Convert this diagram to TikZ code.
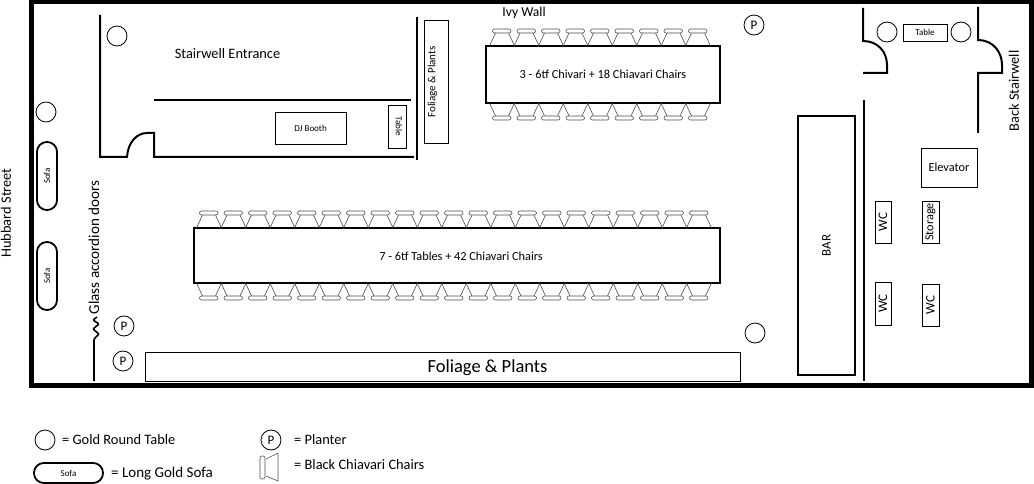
\documentclass[tikz,border=0pt]{standalone}
\usepackage{fontspec}
\setmainfont{Carlito}
\tikzset{
  wall/.style={line width=2pt},
  box/.style={draw,line width=0.9pt,inner sep=0pt},
  bigtable/.style={draw,line width=2.2pt,inner sep=0pt},
  round table/.style={circle,draw,line width=0.8pt,minimum size=20pt,inner sep=0pt},
  sofa/.style={draw,line width=1.8pt,rounded corners=9.8pt,inner sep=0pt},
  chair/.style={line width=0.6pt,draw=black!70},
  lbl/.style={font=\fontsize{14.4}{14.4}\selectfont,inner sep=0pt},
  table lbl/.style={font=\fontsize{12.3}{12.3}\selectfont,inner sep=0pt},
  small lbl/.style={font=\fontsize{9}{9}\selectfont,inner sep=0pt}
}
\begin{document}
\begin{tikzpicture}[x=1pt,y=-1pt]
  \useasboundingbox (0,0) rectangle (1034,484);

  % Outer walls
  \draw[line width=5pt] (31,2) rectangle (1031.5,385.5);

  % Stairwell entrance walls
  \draw[wall] (100,15) -- (100,157) -- (127,157) .. controls (128,142) and (137,133) .. (147,133) -- (154,133) -- (154,157) -- (414,157);
  \draw[wall] (154,100) -- (411,100);
  \draw[wall] (417,17) -- (417,160);

  % Back stairwell walls
  \draw[wall] (863,8) -- (863,41) .. controls (878,41) and (887,52) .. (887,65) -- (887,73) -- (863,73);
  \draw[wall] (978,7) -- (978,40) .. controls (993,40) and (1002,52) .. (1002,65) -- (1002,73) -- (978,73) -- (978,133);
  \draw[wall] (864,100) -- (864,381);

  % Glass doors
  \draw[line width=1.6pt,rounded corners=1pt] (94,381) -- (94,339) -- (99,334) -- (93,329) -- (99,324) -- (93,320) -- (97,317);

  % Tables and boxes
  \node[bigtable,minimum width=526pt,minimum height=55pt] (longtable) at (457,255.5) {};
  \node[table lbl] at (461,256) {7 - 6tf Tables + 42 Chiavari Chairs};
  \node[bigtable,minimum width=234pt,minimum height=57pt,table lbl] (shorttable) at (603,74.5) {3 - 6tf Chivari + 18 Chiavari Chairs};
  \node[box,minimum width=71pt,minimum height=32pt,small lbl] (djbooth) at (310.5,128) {DJ Booth};
  \node[box,minimum width=18pt,minimum height=43pt] (sidetable) at (397,126.5) {};
  \node[small lbl,rotate=-90] at (399,126) {Table};
  \node[box,minimum width=24pt,minimum height=123pt] (foliagetop) at (436,81.5) {};
  \node[font=\fontsize{11}{11}\selectfont,inner sep=0pt,rotate=90] at (432.5,82) {Foliage \& Plants};
  \node[box,minimum width=595pt,minimum height=29pt] (foliagebottom) at (442.5,366.5) {};
  \node[font=\fontsize{18.5}{18.5}\selectfont,inner sep=0pt] at (487.5,368) {Foliage \& Plants};
  \node[bigtable,minimum width=57pt,minimum height=259pt] (bar) at (826.5,245.5) {};
  \node[table lbl,font=\fontsize{13}{13}\selectfont,rotate=90] at (bar) {BAR};
  \node[box,minimum width=44pt,minimum height=17pt,small lbl] (backtable) at (925,32.5) {Table};
  \node[box,minimum width=56pt,minimum height=39pt,table lbl] (elevator) at (949,167.5) {Elevator};
  \node[box,minimum width=17pt,minimum height=42pt] (storage) at (930.5,222) {};
  \node[table lbl,rotate=90] at (storage) {Storage};
  \node[box,minimum width=16pt,minimum height=42pt] (wca) at (883,222) {};
  \node[table lbl,font=\fontsize{13}{13}\selectfont,rotate=90] at (wca) {WC};
  \node[box,minimum width=16pt,minimum height=43pt] (wcb) at (883,303.5) {};
  \node[table lbl,font=\fontsize{13}{13}\selectfont,rotate=90] at (wcb) {WC};
  \node[box,minimum width=17pt,minimum height=42pt] (wcc) at (930.5,305) {};
  \node[table lbl,font=\fontsize{13}{13}\selectfont,rotate=90] at (wcc) {WC};

  % Round tables
  \foreach \x/\y/\n in {117/36/a,46/112/b,755/333/c,887/32/d,961/32/e,45/440/f}
    \node[round table] (round\n) at (\x,\y) {};

  % Planters
  \foreach \x/\y/\n in {754/25/a,124/326/b,123/361/c,271/440/d}
    \node[round table,font=\fontsize{13}{13}\selectfont] (planter\n) at (\x,\y) {P};

  % Sofas
  \foreach \y/\n in {176/a,276/b}{
    \node[sofa,minimum width=20pt,minimum height=68pt] (sofa\n) at (47,\y) {};
    \node[small lbl,rotate=90] at (sofa\n) {Sofa};
  }
  \node[sofa,minimum width=69pt,minimum height=20pt,small lbl] (sofakey) at (68.5,473) {Sofa};

  % Chairs at the long table
  \foreach \i in {0,...,20}{
    \pgfmathsetmacro{\x}{199.5 + 24.5*\i}
    \begin{scope}[shift={(\x,0)}]
      \draw[chair] (-3,228) -- (3,215) (16,215) -- (22,228);
      \draw[chair,fill=white,rounded corners=2pt] (0,211) rectangle (18.5,215);
      \draw[chair] (-3,283) -- (3,296) (16,296) -- (22,283);
      \draw[chair,fill=white,rounded corners=2pt] (0,296) rectangle (18.5,300);
    \end{scope}
  }

  % Chairs at the short table
  \foreach \i in {0,...,8}{
    \pgfmathsetmacro{\x}{492.5 + 24.5*\i}
    \begin{scope}[shift={(\x,0)}]
      \draw[chair] (-3,46) -- (3,33) (16,33) -- (22,46);
      \draw[chair,fill=white,rounded corners=2pt] (0,29) rectangle (18.5,33);
      \draw[chair] (-3,103) -- (3,116) (16,116) -- (22,103);
      \draw[chair,fill=white,rounded corners=2pt] (0,116) rectangle (18.5,120);
    \end{scope}
  }

  % Chair in the key
  \draw[chair] (266,459) -- (278,453) -- (278,481) -- (266,476);
  \draw[chair,fill=white,rounded corners=2pt] (260,456) rectangle (265,479);

  % Labels
  \node[lbl] (entrance) at (227.5,53.5) {Stairwell Entrance};
  \node[lbl,font=\fontsize{13.6}{13.6}\selectfont] (ivy) at (524,13) {Ivy Wall};
  \node[lbl,rotate=90] (hubbard) at (6,213) {Hubbard Street};
  \node[lbl,font=\fontsize{15.1}{15.1}\selectfont,rotate=90] (glass) at (94,247.5) {Glass accordion doors};
  \node[lbl,rotate=90] (backstair) at (1014,91) {Back Stairwell};

  % Key
  \node[lbl,anchor=west] (keya) at (62,440) {= Gold Round Table};
  \node[lbl,font=\fontsize{15}{15}\selectfont,anchor=west] (keyb) at (111,474) {= Long Gold Sofa};
  \node[lbl,anchor=west] (keyc) at (294,440) {= Planter};
  \node[lbl,anchor=west] (keyd) at (294,465) {= Black Chiavari Chairs};
\end{tikzpicture}
\end{document}
